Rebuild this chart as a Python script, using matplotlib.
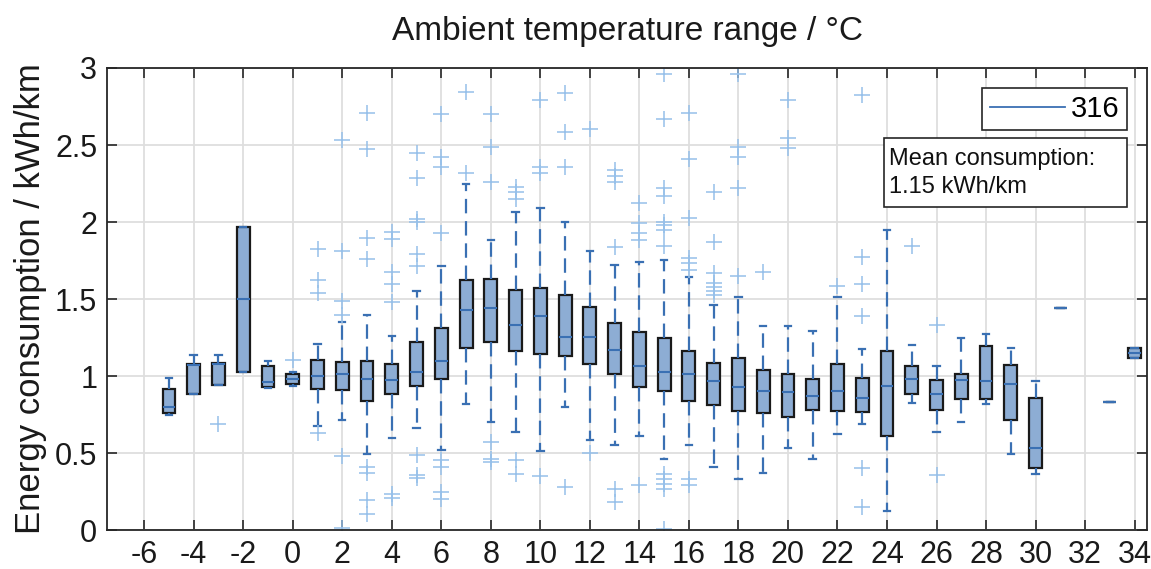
import matplotlib
matplotlib.use("Agg")
import matplotlib.pyplot as plt
from matplotlib.lines import Line2D
from matplotlib.patches import Rectangle

plt.rcParams['font.family'] = ['Liberation Sans', 'DejaVu Sans']

# ---- data ----
temps = [-5, -4, -3, -2, -1, 0, 1, 2, 3, 4, 5, 6, 7, 8, 9, 10, 11, 12, 13, 14,
         15, 16, 17, 18, 19, 20, 21, 22, 23, 24, 25, 26, 27, 28, 29, 30, 31, 33, 34]
q1 = [0.76, 0.88, 0.94, 1.025, 0.93, 0.951, 0.916, 0.908, 0.838, 0.88, 0.936, 0.979,
      1.179, 1.222, 1.161, 1.14, 1.131, 1.075, 1.016, 0.929, 0.901, 0.838, 0.815,
      0.771, 0.76, 0.734, 0.778, 0.771, 0.767, 0.611, 0.886, 0.778, 0.853, 0.853,
      0.717, 0.405, 1.439, 0.832, 1.118]
medians = [0.80, 1.07, 1.08, 1.50, 0.962, 0.979, 0.999, 1.01, 0.983, 0.977, 1.027, 1.098,
           1.428, 1.439, 1.33, 1.391, 1.252, 1.252, 1.172, 1.068, 1.027, 1.01, 0.966,
           0.929, 0.903, 0.893, 0.871, 0.901, 0.86, 0.934, 0.983, 0.886, 0.977, 0.968,
           0.951, 0.53, 1.439, 0.832, 1.15]
q3 = [0.914, 1.075, 1.085, 1.967, 1.064, 1.012, 1.103, 1.092, 1.096, 1.075, 1.22, 1.315,
      1.621, 1.631, 1.558, 1.571, 1.525, 1.449, 1.341, 1.289, 1.25, 1.161, 1.085,
      1.114, 1.038, 1.012, 0.983, 1.081, 0.988, 1.163, 1.064, 0.973, 1.016, 1.196,
      1.07, 0.858, 1.439, 0.832, 1.183]
whisker_low = [0.75, 0.88, 0.94, 1.025, 0.923, 0.934, 0.676, 0.713, 0.496, 0.598, 0.665, 0.522,
               0.821, 0.702, 0.635, 0.513, 0.80, 0.587, 0.55, 0.613, 0.464, 0.55, 0.409,
               0.333, 0.37, 0.533, 0.459, 0.626, 0.687, 0.123, 0.827, 0.637, 0.702, 0.821,
               0.496, 0.365, 1.439, 0.832, 1.118]
whisker_high = [0.99, 1.137, 1.137, 1.967, 1.096, 1.025, 1.205, 1.352, 1.395, 1.261, 1.553, 1.716,
                2.247, 1.883, 2.065, 2.093, 1.998, 1.811, 1.72, 1.742, 1.753, 1.645, 1.46,
                1.51, 1.324, 1.324, 1.293, 1.51, 1.174, 1.948, 1.20, 1.068, 1.25, 1.272,
                1.183, 0.968, 1.439, 0.832, 1.183]
outliers = [
    [], [], [0.687], [], [], [1.103],
    [0.63, 1.824, 1.623, 1.537],
    [2.533, 1.811, 1.489, 1.395, 0.479, 0.01],
    [2.707, 2.473, 1.898, 1.757, 0.409, 0.37, 0.192, 0.106],
    [1.937, 1.887, 1.677, 1.597, 1.482, 0.236, 0.205],
    [2.451, 2.284, 2.02, 1.998, 1.79, 1.714, 0.485, 0.355, 0.34],
    [2.70, 2.425, 2.36, 1.93, 0.452, 0.409, 0.246, 0.2],
    [2.847, 2.317],
    [2.70, 2.486, 2.262, 0.572, 0.464, 0.442],
    [2.23, 2.197, 2.148, 0.452, 0.366],
    [2.789, 2.36, 2.317, 0.348],
    [2.837, 2.587, 2.356, 0.279],
    [2.603, 0.50],
    [2.338, 2.299, 2.262, 1.84, 0.268, 0.181],
    [2.121, 1.996, 1.93, 1.883, 0.29],
    [2.962, 2.668, 2.219, 2.169, 2.002, 1.98, 1.948, 1.844, 0.366, 0.333, 0.301, 0.268, 0.008],
    [2.707, 2.408, 2.024, 1.768, 1.731, 1.688, 0.333, 0.29],
    [2.197, 1.872, 1.666, 1.605, 1.579, 1.553, 1.525],
    [2.962, 2.486, 2.425, 2.223, 1.649],
    [1.677],
    [2.793, 2.548, 2.479],
    [],
    [1.586],
    [2.826, 1.775, 1.597, 1.389, 0.405, 0.149],
    [],
    [1.846],
    [1.33, 0.36],
    [], [], [], [], [], [], [],
]
xtick_values = list(range(-6, 35, 2))
ytick_values = [0, 0.5, 1, 1.5, 2, 2.5, 3]
ytick_labels = ['0', '0.5', '1', '1.5', '2', '2.5', '3']
title_text = 'Ambient temperature range / °C'
ylabel_text = 'Energy consumption / kWh/km'
legend_label = '316'
mean_text = 'Mean consumption:\n1.15 kWh/km'

# ---- styling ----
box_face = '#8dadd4'
box_edge = '#1a1a1a'
blue_line = '#3a70b3'
flier_col = '#96c0ea'

stats = []
for i in range(len(temps)):
    stats.append(dict(med=medians[i], q1=q1[i], q3=q3[i],
                      whislo=whisker_low[i], whishi=whisker_high[i],
                      fliers=outliers[i]))

fig = plt.figure(figsize=(11.51, 5.69), dpi=100)
ax = fig.add_axes([0.093, 0.0685, 0.9035, 0.812])

ax.grid(True, color='#dedede', linewidth=1.3)
ax.set_axisbelow(True)

ax.bxp(stats, positions=temps, widths=0.52, capwidths=0.26, patch_artist=True,
       boxprops=dict(facecolor=box_face, edgecolor=box_edge, linewidth=1.6),
       medianprops=dict(color=blue_line, linewidth=1.5),
       whiskerprops=dict(color=blue_line, linewidth=1.6, linestyle=(0, (6.5, 3.5))),
       capprops=dict(color=blue_line, linewidth=1.6),
       flierprops=dict(marker='+', markeredgecolor=flier_col, markersize=11,
                       markeredgewidth=1.1, linestyle='none'),
       manage_ticks=False)

ax.set_xlim(-7.5, 34.5)
ax.set_ylim(0, 3)
ax.set_xticks(xtick_values)
ax.set_xticklabels([str(v) for v in xtick_values])
ax.set_yticks(ytick_values)
ax.set_yticklabels(ytick_labels)
ax.tick_params(direction='in', length=7, width=1.2, colors='#262626',
               labelsize=22, top=True, right=True, labelcolor='#1a1a1a', pad=7)
for s in ax.spines.values():
    s.set_color('#262626')
    s.set_linewidth(1.3)

ax.set_title(title_text, fontsize=24, color='#1a1a1a', pad=20)
ax.set_ylabel(ylabel_text, fontsize=25, color='#1a1a1a', labelpad=6)

handle = Line2D([], [], color=blue_line, linewidth=1.3)
leg = ax.legend([handle], [legend_label], loc='upper right',
                bbox_to_anchor=(0.981, 0.957), fontsize=21, frameon=True,
                fancybox=False, edgecolor='#262626', framealpha=1,
                handlelength=2.6, borderpad=0.25, handletextpad=0.2,
                borderaxespad=0)
leg.get_frame().set_linewidth(1.2)

ax.add_patch(Rectangle((0.747, 0.699), 0.234, 0.149, transform=ax.transAxes,
                       facecolor='white', edgecolor='#262626', linewidth=1.2, zorder=5))
ax.text(0.752, 0.772, mean_text, transform=ax.transAxes, fontsize=17,
        va='center', ha='left', color='#111111', linespacing=1.35, zorder=6)

fig.savefig('out.png', dpi=100)
